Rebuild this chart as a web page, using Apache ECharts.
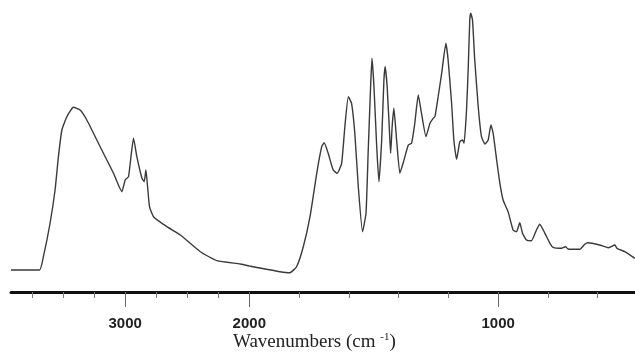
<!DOCTYPE html>
<html><head><meta charset="utf-8">
<script src="https://cdn.jsdelivr.net/npm/echarts@6/dist/echarts.min.js"></script>
<style>html,body{margin:0;padding:0;background:#fff}#c{width:635px;height:354px}</style>
</head><body><div id="c"></div>
<script>
// IR spectrum: wavenumber (cm-1) and absorbance (arbitrary units)
const wavenumbers = [3920,3691,3659,3605,3565,3538,3510,3470,3417,3363,3309,3202,3094,3027,3000,2973,2933,2906,2865,2847,2833,2823,2804,2772,2664,2556,2395,2260,2073,2000,
  1930,1877,1837,1810,1783,1756,1729,1709,1699,1683,1663,1647,1629,1616,1602,1589,1576,1562,1545,1531,1522,1512,1507,1499,1488,1479,1468,1459,1454,1446,1435,1432,1426,1419,1408,1395,1382,1361,1348,1335,1321,1308,1290,1274,1261,1254,1241,1227,1210,1201,1187,1178,1167,1154,1143,1137,1127,1120,1114,1110,1103,1094,1080,1067,1053,1040,1029,1020,1006,993,980,960,940,926,913,902,886,866,846,833,812,792,779,745,729,719,672,652,639,592,558,531,522,491,451];
const absorbance = [0.20,0.20,0.333,0.67,1.00,1.333,1.60,1.733,1.827,1.80,1.70,1.433,1.167,0.983,1.10,1.133,1.517,1.333,1.117,1.083,1.20,1.083,0.833,0.733,0.633,0.55,0.383,0.293,0.26,0.24,
  0.207,0.183,0.173,0.233,0.433,0.733,1.167,1.433,1.473,1.367,1.20,1.167,1.267,1.633,1.933,1.867,1.567,1.033,0.583,0.767,1.40,2.067,2.317,2.033,1.433,1.083,1.50,2.10,2.233,2.033,1.50,1.367,1.633,1.817,1.50,1.167,1.267,1.45,1.467,1.667,1.95,1.767,1.533,1.667,1.717,1.733,1.933,2.167,2.467,2.30,1.867,1.50,1.307,1.483,1.50,1.467,1.80,2.233,2.70,2.767,2.70,2.30,1.833,1.533,1.46,1.50,1.65,1.567,1.30,1.067,0.90,0.783,0.60,0.583,0.673,0.567,0.50,0.493,0.60,0.657,0.567,0.467,0.427,0.417,0.433,0.41,0.407,0.457,0.473,0.45,0.423,0.45,0.417,0.383,0.317];
const majorTicks = [3000, 2000, 1000];
const minorTicks = [3750, 3500, 3250, 2750, 2500, 2250, 1800, 1600, 1400, 1200, 800, 600];
const tickLabels = ['3000', '2000', '1000'];
const scaleBreak = 2000;       // scale changes at 2000 cm-1
const rangeHigh = 3920, rangeLow = 450;
const axisTitleMain = 'Wavenumbers (cm ';
const axisTitleSup = '-1';

const leftPart = [], rightPart = [];
wavenumbers.forEach((w, i) => {
  if (w >= scaleBreak) leftPart.push([w, absorbance[i]]);
  if (w <= scaleBreak) rightPart.push([w, absorbance[i]]);
});

const inRange = (arr, lo, hi) => arr.filter(v => v >= lo && v <= hi);
const labelStyle = {fontFamily: 'Liberation Sans', fontSize: 15, fontWeight: 'bold', color: '#222', margin: 24,
  showMinLabel: true, showMaxLabel: true};

function axesFor(grid, lo, hi, includeBreakLabel) {
  const majors = inRange(majorTicks, lo, hi).filter(v => includeBreakLabel || v !== scaleBreak);
  const minors = inRange(minorTicks, lo, hi);
  return [
    {type: 'value', gridIndex: grid, min: lo, max: hi, inverse: true, position: 'bottom',
      axisLine: {show: true, onZero: false, lineStyle: {color: '#111', width: 3}},
      axisTick: {show: true, customValues: majors, length: 15, lineStyle: {color: '#666', width: 1}},
      axisLabel: Object.assign({customValues: majors, formatter: v => tickLabels[majorTicks.indexOf(v)] || ''}, labelStyle),
      splitLine: {show: false}},
    {type: 'value', gridIndex: grid, min: lo, max: hi, inverse: true, position: 'bottom',
      axisLine: {show: false, onZero: false},
      axisTick: {show: true, customValues: minors, length: 6, lineStyle: {color: '#777', width: 1}},
      axisLabel: {show: false}, splitLine: {show: false}}
  ];
}

const lineStyle = {color: '#3a3a3a', width: 1.4};
const chart = echarts.init(document.getElementById('c'), null, {renderer: 'canvas'});
chart.setOption({
  animation: false,
  backgroundColor: '#fff',
  grid: [
    {left: 11, right: 385.7, top: 0, bottom: 62},
    {left: 249.3, right: 0, top: 0, bottom: 62}
  ],
  xAxis: [...axesFor(0, scaleBreak, rangeHigh, true), ...axesFor(1, rangeLow, scaleBreak, false)],
  yAxis: [
    {type: 'value', gridIndex: 0, min: -0.02, max: 2.9, show: false},
    {type: 'value', gridIndex: 1, min: -0.02, max: 2.9, show: false}
  ],
  title: {
    text: '{a|' + axisTitleMain + '}{s|' + axisTitleSup + '}{a|)}',
    left: 233, top: 332, padding: 0,
    textStyle: {fontWeight: 'normal', rich: {
      a: {fontFamily: 'Liberation Serif', fontSize: 19, fontWeight: 'normal', color: '#222', lineHeight: 20},
      s: {fontFamily: 'Liberation Serif', fontSize: 11, fontWeight: 'normal', color: '#222', lineHeight: 12, verticalAlign: 'top'}
    }}
  },
  series: [
    {type: 'line', xAxisIndex: 0, yAxisIndex: 0, data: leftPart, showSymbol: false, smooth: 0.15, lineStyle},
    {type: 'line', xAxisIndex: 2, yAxisIndex: 1, data: rightPart, showSymbol: false, smooth: 0.15, lineStyle}
  ]
});
</script></body></html>
